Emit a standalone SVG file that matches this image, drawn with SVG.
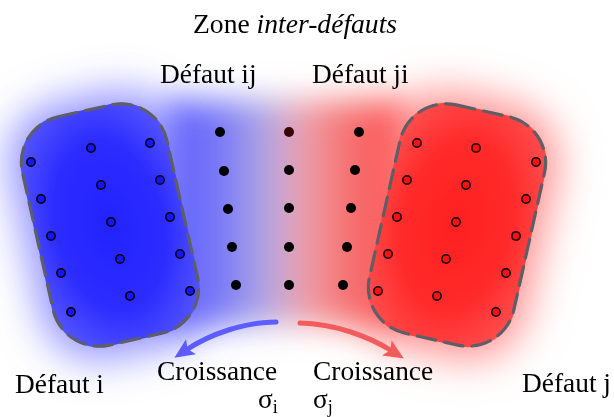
<svg xmlns="http://www.w3.org/2000/svg" width="614" height="417" viewBox="0 0 614 417">
<defs>
<style>
.outline{fill:none;stroke:#5e5e66;stroke-width:3.2;stroke-dasharray:19 9;stroke-linecap:round}
.bdot{fill:#1414ff;stroke:#000;stroke-width:1.5}
.rdot{fill:#ff1010;stroke:#000;stroke-width:1.5}
.kdot{fill:#000}
</style>
<filter id="glow" x="-50%" y="-50%" width="200%" height="200%"><feGaussianBlur stdDeviation="21"/></filter>
<filter id="glow2" x="-50%" y="-50%" width="200%" height="200%"><feGaussianBlur stdDeviation="16"/></filter>
<linearGradient id="mid" x1="0" y1="0" x2="1" y2="0">
<stop offset="0" stop-color="#5858ff"/>
<stop offset="0.25" stop-color="#7c7cf6"/>
<stop offset="0.43" stop-color="#b2aae2"/>
<stop offset="0.58" stop-color="#f0a0a8"/>
<stop offset="0.75" stop-color="#f47272"/>
<stop offset="1" stop-color="#ff5050"/>
</linearGradient>
<radialGradient id="bfill" cx="0.5" cy="0.5" r="0.6">
<stop offset="0" stop-color="#2222ff"/>
<stop offset="0.6" stop-color="#2c2cff"/>
<stop offset="1" stop-color="#5252ff"/>
</radialGradient>
<radialGradient id="rfill" cx="0.5" cy="0.5" r="0.6">
<stop offset="0" stop-color="#ff2020"/>
<stop offset="0.6" stop-color="#ff2a2a"/>
<stop offset="1" stop-color="#ff4c4c"/>
</radialGradient>
<marker id="ab" markerUnits="userSpaceOnUse" markerWidth="30" markerHeight="30" viewBox="-10 -15 30 30" refX="0" refY="0" orient="auto">
<path d="M14 0 L-6 -9 L-2 0 L-6 9 Z" fill="#5c5cff"/>
</marker>
<marker id="ar" markerUnits="userSpaceOnUse" markerWidth="30" markerHeight="30" viewBox="-10 -15 30 30" refX="0" refY="0" orient="auto">
<path d="M14 0 L-6 -9 L-2 0 L-6 9 Z" fill="#f25c5c"/>
</marker>
</defs>
<rect width="614" height="417" fill="#fff"/>
<g id="glow-bg">
<g filter="url(#glow)">
<rect transform="translate(110,225) rotate(-12.6)" x="-86" y="-130" width="172" height="260" rx="58" fill="#9090ff"/>
<rect transform="translate(457,225) rotate(12.6)" x="-86" y="-130" width="172" height="260" rx="58" fill="#ff9090"/>
</g>
<rect x="165" y="100" width="240" height="225" fill="url(#mid)" filter="url(#glow2)"/>
</g>
<g id="defaut-i">
<rect transform="translate(110,225) rotate(-12.6)" x="-75" y="-118" width="150" height="236" rx="48" fill="url(#bfill)"/>
<rect class="outline" transform="translate(110,225) rotate(-12.6)" x="-74" y="-117" width="148" height="234" rx="47"/>
<circle class="bdot" cx="31" cy="162" r="4.2"/><circle class="bdot" cx="41" cy="199" r="4.2"/><circle class="bdot" cx="51" cy="236" r="4.2"/><circle class="bdot" cx="61" cy="273" r="4.2"/><circle class="bdot" cx="71" cy="312" r="4.2"/>
<circle class="bdot" cx="91" cy="148" r="4.2"/><circle class="bdot" cx="101" cy="185" r="4.2"/><circle class="bdot" cx="111" cy="222" r="4.2"/><circle class="bdot" cx="120" cy="259" r="4.2"/><circle class="bdot" cx="130" cy="296" r="4.2"/>
<circle class="bdot" cx="150" cy="143" r="4.2"/><circle class="bdot" cx="160" cy="180" r="4.2"/><circle class="bdot" cx="170" cy="217" r="4.2"/><circle class="bdot" cx="180" cy="254" r="4.2"/><circle class="bdot" cx="190" cy="291" r="4.2"/>
</g>
<g id="defaut-j">
<rect transform="translate(457,225) rotate(12.6)" x="-75" y="-118" width="150" height="236" rx="48" fill="url(#rfill)"/>
<rect class="outline" transform="translate(457,225) rotate(12.6)" x="-74" y="-117" width="148" height="234" rx="47"/>
<circle class="rdot" cx="536" cy="162" r="4.2"/><circle class="rdot" cx="526" cy="199" r="4.2"/><circle class="rdot" cx="516" cy="236" r="4.2"/><circle class="rdot" cx="506" cy="273" r="4.2"/><circle class="rdot" cx="496" cy="312" r="4.2"/>
<circle class="rdot" cx="476" cy="148" r="4.2"/><circle class="rdot" cx="466" cy="185" r="4.2"/><circle class="rdot" cx="456" cy="222" r="4.2"/><circle class="rdot" cx="446" cy="259" r="4.2"/><circle class="rdot" cx="437" cy="296" r="4.2"/>
<circle class="rdot" cx="417" cy="143" r="4.2"/><circle class="rdot" cx="407" cy="180" r="4.2"/><circle class="rdot" cx="397" cy="217" r="4.2"/><circle class="rdot" cx="388" cy="254" r="4.2"/><circle class="rdot" cx="378" cy="291" r="4.2"/>
</g>
<g id="zone-inter-defauts">
<circle class="kdot" cx="220" cy="132" r="5"/><circle class="kdot" cx="224" cy="171" r="5"/><circle class="kdot" cx="228" cy="209" r="5"/><circle class="kdot" cx="232" cy="247" r="5"/><circle class="kdot" cx="236" cy="285" r="5"/>
<circle cx="289" cy="132" r="5" fill="#3a0505"/><circle class="kdot" cx="289" cy="170" r="5"/><circle class="kdot" cx="289" cy="208" r="5"/><circle class="kdot" cx="289" cy="247" r="5"/><circle class="kdot" cx="289" cy="285" r="5"/>
<circle class="kdot" cx="359" cy="132" r="5"/><circle class="kdot" cx="355" cy="170" r="5"/><circle class="kdot" cx="351" cy="208" r="5"/><circle class="kdot" cx="347" cy="247" r="5"/><circle class="kdot" cx="343" cy="285" r="5"/>
</g>
<g id="connectors" fill="none" stroke-width="5" stroke-linecap="round">
<path d="M276 322 C245 322 210 334 186 350" stroke="#5c5cff" marker-end="url(#ab)"/>
<path d="M300 323 C335 324 368 336 392 351" stroke="#f25c5c" marker-end="url(#ar)"/>
</g>
<g id="labels" font-family="Liberation Serif, Times New Roman, serif" font-size="27.4" fill="#000">
<text x="193" y="33" font-size="27.6">Zone <tspan font-style="italic">inter-défauts</tspan></text>
<text x="160" y="83">Défaut ij</text>
<text x="312" y="83">Défaut ji</text>
<text x="15" y="393">Défaut i</text>
<text x="522" y="392">Défaut j</text>
<text x="157" y="380">Croissance</text>
<text x="313" y="380">Croissance</text>
<text x="258" y="408">σ<tspan font-size="18" dy="5">i</tspan></text>
<text x="313" y="408">σ<tspan font-size="18" dy="5">j</tspan></text>
</g>
</svg>
